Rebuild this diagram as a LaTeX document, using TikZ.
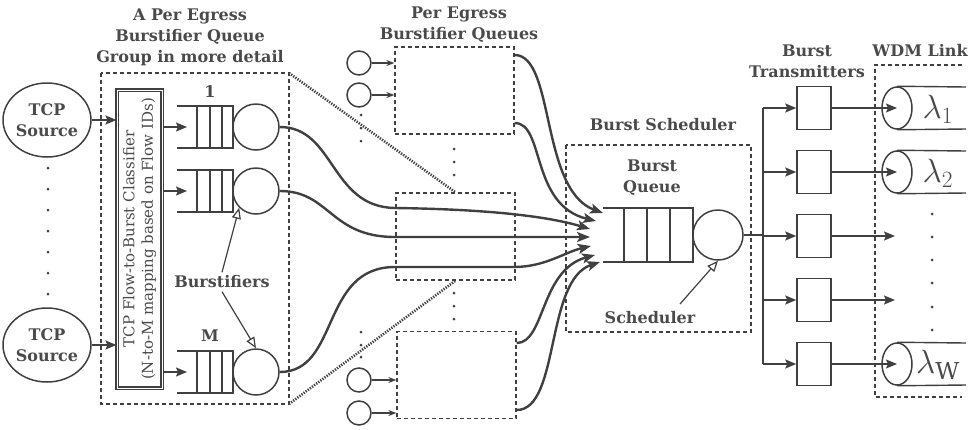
\documentclass[tikz,border=0pt]{standalone}
\usepackage{fontspec}
\setmainfont{DejaVu Serif}
\usetikzlibrary{arrows.meta,shapes.geometric,positioning}
\definecolor{ink}{HTML}{404040}
\definecolor{inktext}{HTML}{4A4A4A}
\tikzset{
  lbl/.style={font=\bfseries\fontsize{16}{21}\selectfont,text=inktext,align=center},
  src/.style={draw=ink,ellipse,line width=1.5pt,minimum width=80pt,minimum height=74pt,inner sep=0pt,lbl},
  srv/.style={draw=ink,circle,line width=1.5pt,minimum size=46pt,inner sep=0pt},
  ssrv/.style={draw=ink,circle,line width=1.5pt,minimum size=24pt,inner sep=0pt},
  grp/.style={draw=ink,line width=1.3pt,dash pattern=on 4pt off 3pt},
  zoomline/.style={draw=ink,line width=2.6pt,dash pattern=on 1.3pt off 1.3pt},
  flow/.style={draw=ink,line width=2.4pt,-{Stealth[length=13pt,width=10pt,inset=3pt]}},
  feed/.style={draw=ink,line width=1.5pt,-{Stealth[length=11pt,width=9pt,inset=2pt]}},
  sfeed/.style={draw=ink,line width=1.5pt,-{Stealth[length=8pt,width=6pt]}},
  note/.style={draw=ink,line width=1.2pt,-{Triangle[open,length=11pt,width=9pt]}},
  txbox/.style={draw=ink,line width=1.5pt,minimum width=34pt,minimum height=43pt,inner sep=0pt},
  fib/.style={draw=ink,ellipse,line width=1.5pt,minimum width=30pt,minimum height=42pt,inner sep=0pt},
  qline/.style={draw=ink,line width=1.4pt},
  dot/.style={fill=ink,circle,inner sep=0pt,minimum size=3pt}
}
\begin{document}
\begin{tikzpicture}[x=1pt,y=-1pt]
\useasboundingbox (0,0) rectangle (977,429);

% titles
\node[lbl] (tGrp) at (190,37) {A Per Egress\\Burstifier Queue\\Group in more detail};
\node[lbl] (tPeq) at (459,25) {Per Egress\\Burstifier Queues};
\node[lbl] (tSch) at (663,125) {Burst Scheduler};
\node[lbl] (tBq) at (652,178) {Burst\\Queue};
\node[lbl] (tTx) at (807,61) {Burst\\Transmitters};
\node[lbl] (tWdm) at (920,50) {WDM Link};

% sources
\node[src] (tcp1) at (47,120) {TCP\\Source};
\node[src] (tcp2) at (47,345) {TCP\\Source};
\foreach \y in {168,189,...,297}
  \node[dot] at (48,\y) {};

% burstifier group in detail
\draw[grp] (101,73) rectangle (289,404);
\coordinate (gTR) at (289,73);
\coordinate (gBR) at (289,404);
\node[draw=ink,double,double distance=0.9pt,line width=1.1pt,minimum width=45pt,minimum height=298pt,inner sep=0pt] (clsf) at (139.5,239) {};
\node[rotate=90,align=center,text=inktext,font=\fontsize{15}{18.5}\selectfont] (clsfTxt) at (clsf.center) {TCP Flow-to-Burst Classifier\\(N-to-M mapping based on Flow IDs)};
\draw[feed] (tcp1.east) -- (tcp1.east -| clsf.west);
\draw[feed] (tcp2.east) -- (tcp2.east -| clsf.west);

\foreach \y/\n in {127/1,191/2,372/M}{
  \draw[qline] (177,\y-21) -- (233,\y-21) -- (233,\y+21) -- (177,\y+21);
  \foreach \x in {197,210,222}
    \draw[qline] (\x,\y-21) -- (\x,\y+21);
  \node[srv] (srv\n) at (256,\y) {};
  \coordinate (in\n) at (187,\y);
  \draw[feed] (clsf.east |- in\n) -- (in\n);
}
\node[lbl] (lOne) at (210,92) {1};
\node[lbl] (lM) at (210,336) {M};
\node[lbl] (lBst) at (222,282) {Burstifiers};
\draw[note] (lBst.north) -- (srv2.south west);
\draw[note] (lBst.south) -- (srvM.north);

% per egress burstifier queues
\node[grp,minimum width=119pt,minimum height=87pt] (bq1) at (454.5,90.5) {};
\node[grp,minimum width=119pt,minimum height=87pt] (bq2) at (455.5,236.5) {};
\node[grp,minimum width=119pt,minimum height=87pt] (bq3) at (456.5,375) {};
\draw[zoomline] (gTR) -- (bq2.north);
\draw[zoomline] (gBR) -- (bq2.south);
\foreach \y/\n in {63/a,95/b,380/c,413/d}{
  \node[ssrv] (c\n) at (359,\y) {};
}
\draw[sfeed] (ca.east) -- (ca.east -| bq1.west);
\draw[sfeed] (cb.east) -- (cb.east -| bq1.west);
\draw[sfeed] (cc.east) -- (cc.east -| bq3.west);
\draw[sfeed] (cd.east) -- (cd.east -| bq3.west);
\foreach \y in {115,128,141,332,345,357}
  \node[dot] at (361,\y) {};
\foreach \y in {149,162,175,293,306,319}
  \node[dot] at (454,\y) {};

% burst scheduler
\draw[grp] (566,145) rectangle (751,332);
\draw[qline] (603,208) -- (693,208) -- (693,262) -- (603,262);
\foreach \x in {624,647,670}
  \draw[qline] (\x,208) -- (\x,262);
\node[srv,minimum size=50pt] (sched) at (718,235) {};
\node[lbl] (lSch) at (650,318) {Scheduler};
\coordinate (schFrom) at (680,304);
\draw[note] (schFrom) -- (sched.south);

\coordinate (t1) at (603,213);
\coordinate (t2) at (596,221);
\coordinate (t3) at (590,229);
\coordinate (t4) at (590,237);
\coordinate (t5) at (591,246);
\coordinate (t6) at (595,255);
\coordinate (t7) at (600,262);

\draw[flow] (bq1.east |- 0,55) .. controls (555,55) and (540,190) .. (t1);
\draw[flow] (bq1.east |- 0,123) .. controls (545,123) and (530,205) .. (t2);
\draw[flow] (srv1.east) .. controls (335,127) and (330,207) .. (395,208) .. controls (470,209) and (540,214) .. (t3);
\draw[flow] (srv2.east) .. controls (330,191) and (330,237) .. (395,237) -- (t4);
\draw[flow] (srvM.east) .. controls (340,372) and (320,267) .. (395,267) -- (514,267) .. controls (545,267) and (565,252) .. (t5);
\draw[flow] (bq3.east |- 0,343) .. controls (545,343) and (540,270) .. (t6);
\draw[flow] (bq3.east |- 0,410) .. controls (560,410) and (545,280) .. (t7);

% transmitters
\coordinate (busT) at (763,108);
\coordinate (busB) at (763,364);
\draw[ink,line width=1.5pt] (busT) -- (busB);
\draw[ink,line width=1.5pt] (sched.east) -- (sched.east -| busT);
\foreach \i/\y in {1/108,2/172,3/236,4/300,5/364}{
  \node[txbox] (tx\i) at (814,\y) {};
  \coordinate (bus\i) at (763,\y);
  \draw[feed] (bus\i) -- (tx\i.west);
}

% WDM link
\draw[grp] (962,65) -- (875,65) -- (875,397) -- (962,397);
\foreach \i/\y/\l in {1/108/1,2/172/2,5/364/\mathrm{W}}{
  \node[fib] (fib\i) at (897,\y) {};
  \draw[qline] (fib\i.north) -- (966,\y-21);
  \draw[qline] (fib\i.south) -- (966,\y+21);
  \node[text=inktext,font=\fontsize{24.88}{26}\selectfont,scale=1.35] (lam\i) at (938,\y+1) {$\lambda_{\scriptscriptstyle\l}$};
  \draw[feed] (tx\i.east) -- (fib\i.center);
}
\coordinate (end3) at (895,236);
\coordinate (end4) at (895,300);
\draw[feed] (tx3.east) -- (end3);
\draw[feed] (tx4.east) -- (end4);
\foreach \y in {214,237,260,283,307,330}
  \node[dot] at (932,\y) {};
\end{tikzpicture}
\end{document}
